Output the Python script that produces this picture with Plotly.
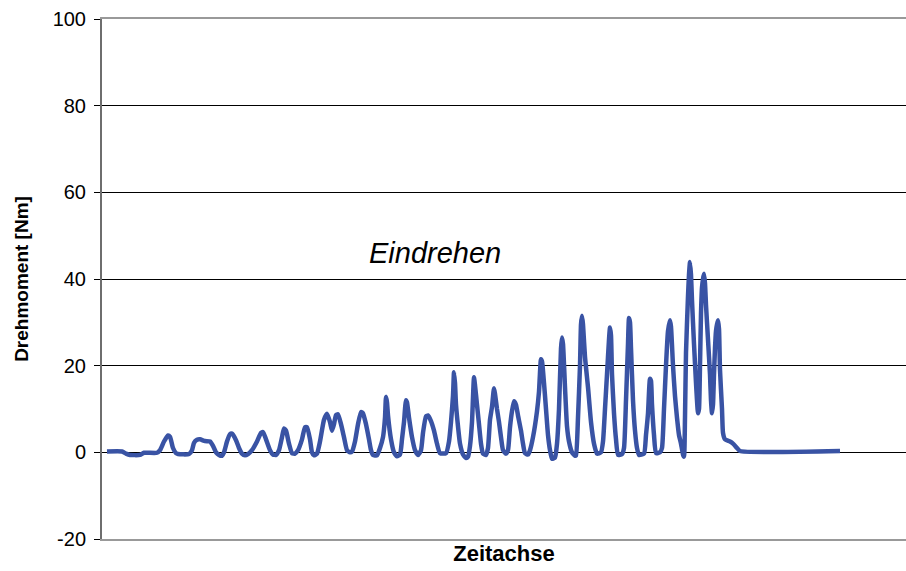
import plotly.graph_objects as go

# Time axis (arbitrary units) and torque values [Nm]
pixel_time = [107, 122, 126, 130, 140, 144, 157, 160, 164, 168, 170, 173, 176, 178, 189, 192, 194, 197, 200, 205,
              210, 213, 216, 219, 222, 224, 227, 230, 232, 236, 239, 242, 245, 248, 252, 257, 261, 263, 266, 270,
              273, 276, 279, 282, 284, 286, 289, 292, 295, 298, 302, 305, 307, 310, 312, 314, 317, 320, 324, 327,
              330, 332, 334, 336, 338, 341, 344, 347, 350, 352, 355, 358, 361, 363, 366, 369, 371, 373, 377, 380,
              383, 385, 386, 387, 388, 391, 394, 397, 400, 402, 404, 406, 407, 409, 412, 415, 418, 421, 423, 426,
              428, 431, 434, 437, 440, 446, 449, 451, 453, 454, 455, 456, 458, 460, 463, 466, 468, 470, 472, 474,
              475, 477, 479, 481, 483, 486, 488, 490, 492, 494, 495, 497, 499, 501, 503, 506, 508, 510, 512, 514,
              516, 518, 521, 523, 525, 528, 530, 533, 537, 539, 541, 542, 544, 546, 548, 550, 552, 555, 557, 559,
              561, 562, 563, 565, 567, 569, 572, 575, 576, 578, 580, 581, 582, 583, 585, 588, 591, 594, 597, 601,
              603, 605, 607, 609, 610, 611, 612, 614, 616, 618, 622, 624, 626, 628, 629, 630, 631, 633, 635, 637,
              639, 644, 646, 648, 650, 651, 652, 654, 656, 660, 662, 664, 666, 668, 670, 671, 673, 675, 677, 679,
              681, 683, 684, 685, 686, 688, 689, 690, 691, 692, 694, 696, 697, 698, 699, 700, 701, 702, 703, 704,
              705, 706, 708, 710, 711, 712, 713, 714, 715, 716, 717, 718, 719, 720, 722, 723, 725, 730, 733, 737,
              740, 840]
time = [p - 102 for p in pixel_time]

torque = [0.2, 0.2, -0.3, -0.6, -0.6, -0.1, -0.1, 0.5, 2.5, 3.9, 3.6, 1.0, -0.2, -0.4, -0.4, 0.5, 2.2, 2.9, 3.0, 2.6,
          2.5, 1.5, 0.0, -0.6, -0.8, 0.0, 2.5, 4.2, 4.3, 2.8, 1.0, -0.3, -0.7, -0.4, 0.5, 2.5, 4.5, 4.7, 3.0, 0.5,
          -0.5, -0.6, 0.5, 3.5, 5.5, 5.0, 2.0, -0.2, -0.3, 0.5, 3.0, 5.8, 5.8, 3.0, 0.0, -0.7, -0.3, 2.5, 7.5, 8.9,
          7.0, 5.0, 6.5, 8.6, 8.8, 6.5, 3.5, 0.5, 0.0, 0.2, 2.5, 6.5, 9.3, 9.0, 6.5, 3.0, 0.5, -0.6, -0.7, 1.0,
          3.5, 8.0, 12.8, 11.5, 8.5, 3.0, 0.0, -0.9, -0.5, 3.0, 7.0, 12.0, 11.5, 8.0, 3.5, 0.5, -0.6, 0.5, 4.5, 8.3,
          8.5, 7.2, 5.0, 2.0, -0.2, -0.2, 2.5, 7.0, 13.0, 18.5, 16.0, 11.0, 6.0, 2.0, -0.5, -1.3, -1.0, 1.5, 7.0, 17.3,
          15.5, 11.0, 6.5, 2.0, -0.3, -0.6, 1.0, 7.5, 10.5, 14.8, 13.5, 10.0, 7.0, 3.5, 0.5, -0.3, 0.5, 5.8, 9.5, 11.8,
          11.0, 8.5, 5.0, 2.0, -0.2, -0.5, 0.5, 3.5, 9.5, 14.0, 21.5, 21.0, 16.0, 10.0, 4.0, 0.5, -1.5, -1.2, 2.0, 10.0,
          24.0, 26.5, 25.0, 15.0, 6.0, 2.5, 0.0, -0.8, -0.7, 8.0, 20.0, 29.5, 31.5, 29.5, 22.0, 15.0, 7.0, 2.0, -0.3, 0.0,
          2.5, 10.0, 18.0, 26.0, 28.8, 27.0, 18.0, 9.0, 3.0, -0.6, -0.4, 1.0, 12.0, 25.0, 31.0, 30.0, 24.0, 12.0, 5.0, 1.0,
          -0.6, -0.3, 4.0, 9.0, 17.0, 16.5, 11.0, 4.0, -0.2, 0.0, 1.0, 10.0, 20.0, 28.0, 30.5, 29.0, 20.0, 13.0, 8.0, 4.0,
          2.0, -0.5, -1.0, 8.0, 23.0, 36.0, 41.0, 43.9, 41.0, 35.0, 25.0, 16.0, 12.0, 9.0, 10.0, 20.0, 32.0, 38.0, 40.0, 41.2,
          39.0, 34.0, 26.0, 18.0, 12.0, 9.0, 11.0, 18.0, 24.0, 28.0, 29.5, 30.5, 28.5, 19.0, 10.0, 4.5, 3.0, 2.5, 2.0, 1.0,
          0.3, 0.3]

y_ticks = [-20, 0, 20, 40, 60, 80, 100]
x_title = "Zeitachse"
y_title = "Drehmoment [Nm]"
label_text = "Eindrehen"
label_pos = (333, 46)

fig = go.Figure()
fig.add_trace(go.Scatter(
    x=time, y=torque, mode="lines",
    line=dict(color="rgb(57,83,164)", width=4.5, shape="spline", smoothing=0.5),
    showlegend=False, hoverinfo="skip",
))

fig.add_annotation(
    x=label_pos[0], y=label_pos[1], xref="x", yref="y",
    text=label_text, showarrow=False,
    font=dict(family="Liberation Sans, Arial", size=29, color="black", style="italic"),
)

fig.update_layout(
    width=906, height=571,
    margin=dict(l=102, r=0, t=19, b=32),
    paper_bgcolor="white", plot_bgcolor="white",
    font=dict(family="Liberation Sans, Arial", color="black"),
    xaxis=dict(
        range=[0, 804], showticklabels=False, ticks="", showgrid=False, zeroline=False,
        showline=True, linecolor="#999999", linewidth=2, mirror=True,
        title=dict(text=f"<b>{x_title}</b>", font=dict(size=22), standoff=6),
    ),
    yaxis=dict(
        range=[-20, 100], tickvals=y_ticks, ticktext=[str(v) for v in y_ticks],
        tickfont=dict(size=20), ticks="outside", ticklen=6, tickcolor="black",
        ticklabelstandoff=4,
        showgrid=True, gridcolor="black", gridwidth=1, zeroline=False,
        showline=True, linecolor="#6e6e6e", linewidth=2, mirror=False,
        title=dict(text=f"<b>{y_title}</b>", font=dict(size=19), standoff=19),
    ),
)

fig.write_html(
    "out.html",
    config={"displayModeBar": False},
    default_width="906px",
    default_height="571px",
    post_script="document.body.style.margin='0';document.body.style.overflow='hidden';",
)
